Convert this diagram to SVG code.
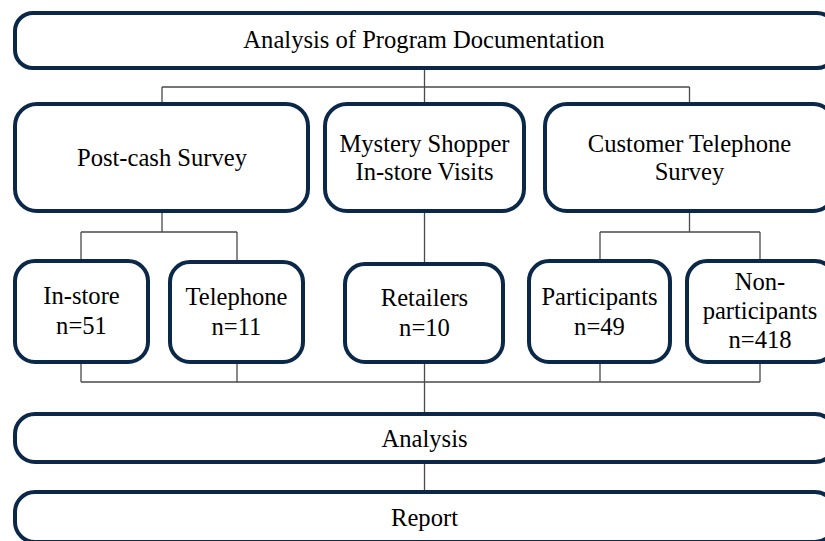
<svg xmlns="http://www.w3.org/2000/svg" width="825" height="541" viewBox="0 0 825 541">
<style>
.box{fill:#fff;stroke:#0b2849;stroke-width:4}
.t{font-family:"Liberation Serif","Times New Roman",serif;font-size:24.6px;fill:#000;text-anchor:middle}
.c{fill:none;stroke:#4a4a4a;stroke-width:1.3}
</style>
<rect width="825" height="541" fill="#fff"/>
<g id="connectors">
<path class="c" d="M424.5 68V87M162 87H689.5M162 87V104M424.5 87V104M689.5 87V104"/>
<path class="c" d="M162 211V232M81 232H237M81 232V261M237 232V262"/>
<path class="c" d="M689.5 211V232M600 232H760M600 232V261M760 232V261"/>
<path class="c" d="M424.5 211V264"/>
<path class="c" d="M81 362V382M237 362V382M600 362V382M760 362V382M81 382H760M424.5 362V414M424.5 462V492"/>
</g>
<g id="n-docs"><rect class="box" x="15" y="13" width="820" height="55" rx="18"/><text class="t" x="424" y="48">Analysis of Program Documentation</text></g>
<g id="n-postcash"><rect class="box" x="15" y="104" width="293" height="107" rx="22"/><text class="t" x="162" y="166">Post-cash Survey</text></g>
<g id="n-mystery"><rect class="box" x="325" y="104" width="199" height="107" rx="22"/><text class="t" x="424.5" y="152">Mystery Shopper</text><text class="t" x="424.5" y="180">In-store Visits</text></g>
<g id="n-customer"><rect class="box" x="545" y="104" width="290" height="107" rx="22"/><text class="t" x="689.5" y="152">Customer Telephone</text><text class="t" x="689.5" y="180">Survey</text></g>
<g id="n-instore"><rect class="box" x="15" y="261" width="133" height="101" rx="20"/><text class="t" x="81.5" y="304">In-store</text><text class="t" x="81.5" y="334">n=51</text></g>
<g id="n-telephone"><rect class="box" x="170" y="262" width="133" height="100" rx="20"/><text class="t" x="236.5" y="305">Telephone</text><text class="t" x="236.5" y="335">n=11</text></g>
<g id="n-retailers"><rect class="box" x="345" y="264" width="158" height="98" rx="20"/><text class="t" x="424.5" y="306">Retailers</text><text class="t" x="424.5" y="336">n=10</text></g>
<g id="n-participants"><rect class="box" x="529" y="261" width="141" height="101" rx="20"/><text class="t" x="599.5" y="305">Participants</text><text class="t" x="599.5" y="335">n=49</text></g>
<g id="n-nonparticipants"><rect class="box" x="687" y="261" width="148" height="101" rx="20"/><text class="t" x="760" y="290">Non-</text><text class="t" x="760" y="319">participants</text><text class="t" x="760" y="348">n=418</text></g>
<g id="n-analysis"><rect class="box" x="15" y="414" width="820" height="48" rx="20"/><text class="t" x="424.5" y="447">Analysis</text></g>
<g id="n-report"><rect class="box" x="15" y="492" width="820" height="50" rx="20"/><text class="t" x="424.5" y="526">Report</text></g>
</svg>
